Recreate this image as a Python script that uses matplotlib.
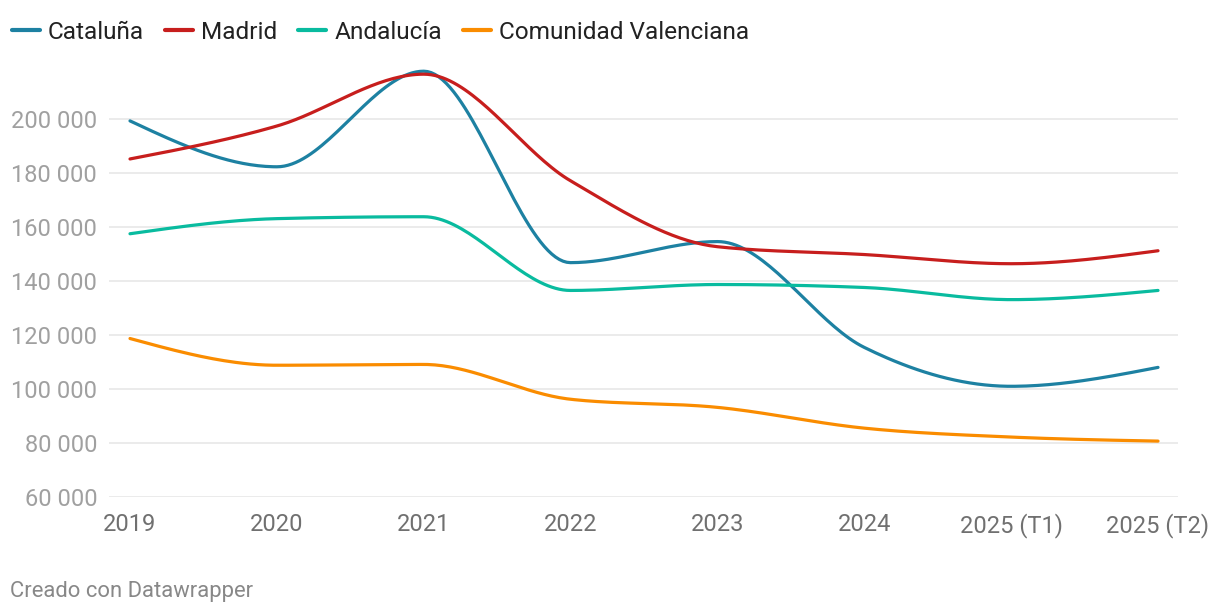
import matplotlib
matplotlib.use("Agg")
import matplotlib.pyplot as plt
from matplotlib.ticker import FuncFormatter
from matplotlib.lines import Line2D
import numpy as np

plt.rcParams['font.family'] = ['Roboto', 'DejaVu Sans']

# data
periods = ["2019", "2020", "2021", "2022", "2023", "2024", "2025 (T1)", "2025 (T2)"]
cataluna = [199300, 182300, 217700, 146800, 154600, 115400, 101000, 108000]
madrid = [185200, 197400, 216600, 177100, 152700, 149800, 146400, 151200]
andalucia = [157500, 163100, 163800, 136500, 138700, 137600, 133100, 136500]
valenciana = [118700, 108800, 109100, 96200, 93200, 85500, 82200, 80700]

series = [
    ("Cataluña", cataluna, "#1d81a2"),
    ("Madrid", madrid, "#c71e1d"),
    ("Andalucía", andalucia, "#09bb9f"),
    ("Comunidad Valenciana", valenciana, "#fa8c00"),
]


def monotone_x(xs, ys, n=40):
    # same idea as d3.curveMonotoneX
    xs = np.asarray(xs, float)
    ys = np.asarray(ys, float)
    h = np.diff(xs)
    s = np.diff(ys) / h
    m = np.zeros(len(xs))
    for i in range(1, len(xs) - 1):
        p = (s[i - 1] * h[i] + s[i] * h[i - 1]) / (h[i - 1] + h[i])
        m[i] = (np.sign(s[i - 1]) + np.sign(s[i])) * min(abs(s[i - 1]), abs(s[i]), 0.5 * abs(p)) or 0.0
    m[0] = (3 * s[0] - m[1]) / 2
    m[-1] = (3 * s[-1] - m[-2]) / 2
    out_x, out_y = [], []
    t = np.linspace(0, 1, n)
    for i in range(len(xs) - 1):
        h00 = 2 * t**3 - 3 * t**2 + 1
        h10 = t**3 - 2 * t**2 + t
        h01 = -2 * t**3 + 3 * t**2
        h11 = t**3 - t**2
        yy = h00 * ys[i] + h10 * h[i] * m[i] + h01 * ys[i + 1] + h11 * h[i] * m[i + 1]
        xx = xs[i] + t * h[i]
        if i > 0:
            xx, yy = xx[1:], yy[1:]
        out_x.append(xx)
        out_y.append(yy)
    return np.concatenate(out_x), np.concatenate(out_y)


fig = plt.figure(figsize=(12.2, 6.14), dpi=100)
ax = fig.add_axes([109 / 1220, 1 - 497 / 614, (1178 - 109) / 1220, (497 - 65) / 614])

x = np.arange(len(periods))
for name, vals, col in series:
    sx, sy = monotone_x(x, vals)
    ax.plot(sx, sy, color=col, lw=2.3, solid_capstyle='round',
            clip_on=False, zorder=3)

ax.set_xlim((109 - 130) / 146.86, (1178 - 130) / 146.86)
ax.set_ylim(60000, 220000)
ax.set_yticks(range(60000, 200001, 20000))
ax.yaxis.set_major_formatter(FuncFormatter(lambda v, p: f"{int(v):,}".replace(",", " ")))
ax.set_xticks(x)
ax.set_xticklabels(periods)
ax.grid(axis='y', color='#e6e6e6', lw=1.1, zorder=0)
for s in ax.spines.values():
    s.set_visible(False)
ax.tick_params(axis='y', length=0, pad=8.5, labelsize=17, labelcolor='#a0a0a0')
ax.tick_params(axis='x', length=0, pad=11.5, labelsize=17, labelcolor='#707070')

# legend drawn by hand, Datawrapper style
renderer = fig.canvas.get_renderer()
lx = 12
ly = 1 - 30 / 614
for name, _, col in series:
    fig.add_artist(Line2D([lx / 1220, (lx + 28) / 1220], [ly, ly], color=col,
                          lw=3, solid_capstyle='round'))
    t = fig.text((lx + 36) / 1220, ly, name, fontsize=17.6, color='#222222',
                 va='center_baseline', ha='left')
    w = t.get_window_extent(renderer).width
    lx = lx + 36 + w + 21

fig.text(10 / 1220, 1 - 591 / 614, "Creado con Datawrapper", fontsize=15.8,
         color='#888888', va='center', ha='left')

fig.savefig("out.png", dpi=100, facecolor='white')
